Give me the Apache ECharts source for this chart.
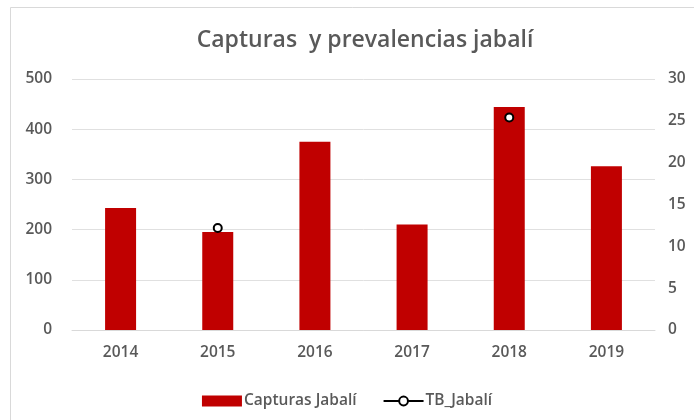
<!DOCTYPE html>
<html>
<head>
<meta charset="utf-8">
<script src="https://cdn.jsdelivr.net/npm/echarts@6/dist/echarts.min.js"></script>
<style>
  html, body { margin: 0; padding: 0; background: #fff; }
  #chart { width: 694px; height: 420px; }
</style>
</head>
<body>
<div id="chart"></div>
<script>
// Wild boar captures per year and TB prevalence (%)
const years = ['2014', '2015', '2016', '2017', '2018', '2019'];
const capturas = [243, 195, 375, 210, 444, 326];
const tbJabali = [null, 12.2, null, null, 25.4, null];
const leftTicks = [0, 100, 200, 300, 400, 500];
const rightTicks = [0, 5, 10, 15, 20, 25, 30];

const FONT = '"Open Sans", "Liberation Sans", sans-serif';
const GREY = '#595959';

const chart = echarts.init(document.getElementById('chart'), null, { renderer: 'canvas' });

chart.setOption({
  backgroundColor: '#fff',
  animation: false,
  title: {
    text: 'Capturas  y prevalencias jabalí',
    left: 360,
    textAlign: 'center',
    top: 24,
    textStyle: { fontFamily: FONT, fontSize: 23, fontWeight: 600, color: GREY }
  },
  graphic: [{
    type: 'rect',
    shape: { x: 10.5, y: 7.5, width: 700, height: 430 },
    style: { fill: 'none', stroke: '#d9d9d9', lineWidth: 1 },
    silent: true
  }],
  legend: {
    bottom: 6,
    left: 'center',
    itemGap: 26,
    itemWidth: 40,
    itemHeight: 11,
    textStyle: { fontFamily: FONT, fontSize: 15.5, fontWeight: 600, color: GREY, padding: [0, 0, 0, -3] },
    data: [
      { name: 'Capturas Jabalí', icon: 'rect' },
      { name: 'TB_Jabalí' }
    ]
  },
  grid: { left: 72, right: 39, top: 79, bottom: 90, containLabel: false },
  xAxis: {
    type: 'category',
    data: years,
    axisLine: { show: true, lineStyle: { color: '#d9d9d9' } },
    axisTick: { show: false },
    axisLabel: { fontFamily: FONT, fontSize: 15.5, fontWeight: 600, color: GREY, margin: 15 }
  },
  yAxis: [{
    type: 'value',
    min: leftTicks[0],
    max: leftTicks[leftTicks.length - 1],
    interval: 100,
    axisLine: { show: false },
    axisTick: { show: false },
    splitLine: { lineStyle: { color: '#e0e0e0' } },
    axisLabel: { fontFamily: FONT, fontSize: 15.5, fontWeight: 600, color: GREY, margin: 20 }
  }, {
    type: 'value',
    min: rightTicks[0],
    max: rightTicks[rightTicks.length - 1],
    interval: 5,
    position: 'right',
    axisLine: { show: false },
    axisTick: { show: false },
    splitLine: { show: false },
    axisLabel: { fontFamily: FONT, fontSize: 15.5, fontWeight: 600, color: GREY, margin: 13 }
  }],
  series: [{
    name: 'Capturas Jabalí',
    type: 'bar',
    yAxisIndex: 0,
    data: capturas,
    barWidth: 31,
    itemStyle: { color: '#C00000' }
  }, {
    name: 'TB_Jabalí',
    type: 'line',
    yAxisIndex: 1,
    data: tbJabali,
    connectNulls: false,
    symbol: 'circle',
    symbolSize: 8,
    lineStyle: { color: '#000', width: 2.5 },
    itemStyle: { color: '#fff', borderColor: '#000', borderWidth: 2 },
    z: 5
  }]
});
</script>
</body>
</html>
